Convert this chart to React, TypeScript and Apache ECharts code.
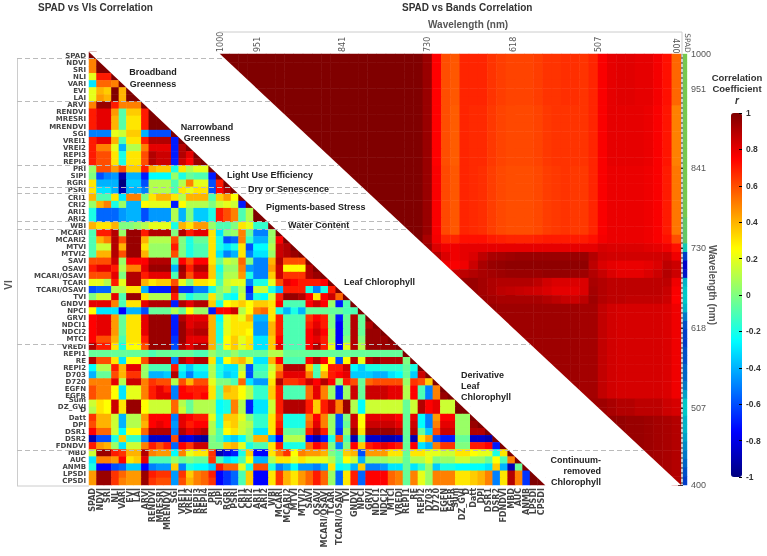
import React, { useEffect, useRef } from "react";
import * as echarts from "echarts";

const viLabels = ["SPAD","NDVI","SRI","NLI","VARI","EVI","LAI","ARVI","RENDVI","MRESRI","MRENDVI","SGI","VREI1","VREI2","REPI3","REPI4","PRI","SIPI","RGRI","PSRI","CRI1","CRI2","ARI1","ARI2","WBI","MCARI","MCARI2","MTVI","MTVI2","SAVI","OSAVI","MCARI/OSAVI","TCARI","TCARI/OSAVI","TVI","GNDVI","NPCI","GRVI","NDCI1","NDCI2","MTCI","VREDI","REPI1","RE","REPI2","D703","D720","EGFN","EGFR","Sum\nDZ_GVI","D","Datt","DPI","DSR1","DSR2","FDNDVI","MBD","AUC","ANMB","LPSDI","CPSDI"];

// Correlation x 100, lower triangle, one array per VI row
const viRows: number[][] = [
[100],
[50,100],
[50,100,100],
[20,70,70,100],
[-30,55,55,50,100],
[20,40,35,100,40,100],
[20,45,40,100,40,100,100],
[50,95,95,70,50,50,50,100],
[70,80,80,45,-8,35,35,70,100],
[70,80,80,40,-8,30,30,70,100,100],
[70,80,80,40,-8,30,30,70,100,100,100],
[-50,-50,-50,20,15,35,35,-40,-60,-60,-60,100],
[70,80,80,40,-10,30,30,70,90,90,90,-70,100],
[70,50,50,20,-40,10,10,50,80,80,80,-70,90,100],
[70,60,60,30,-20,30,30,60,90,85,85,-70,90,80,100],
[70,60,60,30,-20,30,30,60,90,85,85,-70,85,75,95,100],
[5,60,60,45,60,35,35,70,40,35,35,-20,30,10,20,20,100],
[0,-60,-50,-45,-90,-40,-40,-70,-25,-25,-25,5,-20,-5,-10,-10,-70,100],
[30,-40,-40,-40,-100,-35,-35,-60,10,10,10,-10,10,50,20,20,-60,70,100],
[30,-30,-30,-40,-90,-40,-40,-50,10,10,10,-10,30,20,30,30,-60,75,90,100],
[40,-10,-10,30,-30,50,50,0,30,40,40,30,10,40,40,40,-10,35,45,25,100],
[5,40,50,-20,5,-40,-40,25,20,20,20,-70,25,10,10,10,0,15,20,15,-70,100],
[-20,-55,-55,-55,-45,-40,-40,-60,-45,-45,-45,10,-40,0,-35,-35,-20,70,60,50,-10,10,100],
[-20,-55,-55,-55,-45,-40,-40,-60,-45,-45,-45,10,-40,0,-35,-35,-20,70,60,50,-10,10,100,100],
[40,30,30,40,0,0,5,10,20,20,20,-20,40,30,45,45,5,-10,-10,0,30,20,-15,-15,100],
[-10,70,70,90,5,95,95,70,90,90,90,0,90,70,80,80,30,-30,0,5,50,-5,-50,-50,5,100],
[-10,40,50,90,60,95,95,40,10,10,10,60,0,-20,-5,-5,30,-20,-60,-55,50,-15,-40,-40,5,75,100],
[-10,15,15,90,40,95,95,30,5,5,5,70,0,-20,-10,-10,30,-20,-30,-20,30,-60,-25,-25,10,85,90,100],
[-10,40,40,90,60,95,95,40,5,5,5,60,0,-20,-10,-10,30,-30,-50,-40,30,-50,-30,-30,5,85,90,95,100],
[60,60,60,85,5,75,75,75,90,90,90,-10,75,60,75,75,30,-5,15,10,55,0,-50,-50,40,90,60,60,60,100],
[70,80,80,70,10,50,50,80,95,95,95,-40,95,70,90,90,35,-20,5,5,50,-45,-50,-50,45,85,25,25,25,90,100],
[60,60,60,80,0,90,90,70,80,80,80,-10,90,60,80,80,35,-15,10,10,45,-20,-50,-50,35,85,65,65,65,90,95,100],
[20,20,10,70,20,90,90,40,30,35,35,60,20,0,30,30,25,-10,15,20,20,-50,-20,-20,20,60,80,75,70,70,70,75,100],
[-60,-55,-55,10,10,30,30,-40,-70,-70,-70,90,-65,-65,-50,-50,-20,0,10,-10,10,-70,15,15,-20,-40,70,70,70,-20,-50,-20,70,100],
[0,15,15,80,-10,95,95,30,10,10,10,70,0,-20,-10,-10,30,0,-20,-25,15,-60,-20,-25,15,70,95,95,90,75,30,75,85,55,100],
[80,80,80,50,-10,30,30,80,90,90,90,-70,90,80,90,90,35,-20,25,30,35,25,35,35,30,75,-10,-10,-10,75,85,75,5,-70,-10,100],
[25,-30,-30,-30,-75,-40,-40,-60,-5,-5,-5,10,-5,25,5,5,-70,75,75,85,10,25,50,55,30,-20,-40,-20,-40,-5,-5,-5,-5,-5,-10,-10,100],
[75,80,80,45,-5,30,30,80,95,95,95,-70,90,80,80,80,40,-25,20,30,20,40,-40,-40,30,70,-10,-10,-10,65,75,70,0,-70,-5,90,-5,100],
[75,80,80,45,-5,30,30,80,95,95,95,-70,95,80,85,85,40,-20,20,30,30,30,-45,-45,40,70,-10,-10,-10,70,80,70,0,-75,-5,90,-5,90,100],
[75,80,80,45,-5,30,30,80,95,95,95,-70,95,85,90,90,40,-20,20,30,30,25,-45,-45,40,70,-10,-10,-10,75,85,75,5,-75,-5,90,-5,95,95,100],
[75,60,60,40,-10,30,30,70,95,95,95,-65,95,80,80,80,40,-20,25,35,20,30,-30,-30,35,75,-10,-10,-10,75,80,70,5,-75,0,90,0,95,95,95,100],
[90,70,70,30,-20,25,25,60,95,95,95,-60,90,80,90,90,40,-10,25,35,20,30,-30,-30,35,80,-10,-10,-10,75,90,70,20,-75,20,90,10,95,95,95,95,100],
[-5,-5,-5,-5,-5,-5,-5,-5,-10,-5,-5,-5,-5,-5,-10,-10,5,-5,-5,5,-5,-5,-5,-5,10,10,-5,-5,-5,-5,-5,-5,-5,-5,-5,-5,-5,-5,-5,-5,-5,-5,100],
[90,60,60,30,-30,25,25,60,90,90,90,-50,90,80,90,90,30,-30,25,35,40,20,-30,-30,40,75,-10,-10,-10,75,90,75,25,-60,25,90,20,90,95,90,90,90,0,100],
[-25,10,10,70,40,80,80,5,-10,-10,-10,70,-20,-35,-20,-20,10,-20,-30,-30,10,-60,-15,-15,15,45,90,90,90,35,-10,25,70,70,85,-25,-35,-20,-20,-15,-15,-15,-5,-20,100],
[-40,-5,-5,60,40,65,65,5,-40,-40,-35,90,-30,-50,-30,-30,10,-20,-35,-30,20,-60,-10,-10,20,60,80,80,80,50,-10,40,70,75,80,-35,-35,-35,-40,-40,-30,-25,-5,-35,85,100],
[50,50,50,80,10,85,85,50,65,60,60,10,60,40,60,60,20,0,0,-10,55,-30,-45,-45,30,90,65,65,70,85,75,90,75,5,70,60,-5,55,60,60,60,60,5,65,60,35,100],
[60,50,50,25,-30,20,20,50,70,80,70,-50,75,70,70,70,30,-10,40,35,25,10,-15,-15,35,70,-10,-10,-10,55,80,50,5,-70,5,85,-5,85,85,85,80,80,10,75,-10,-50,50,100],
[60,50,50,25,-30,20,20,50,70,80,80,-50,75,75,70,75,30,-10,35,35,25,10,-15,-15,35,70,-10,-10,-10,55,80,50,5,-70,5,85,-5,85,85,85,80,80,10,75,-10,-50,50,95,100],
[15,30,25,85,30,95,95,25,15,15,15,55,10,-5,10,10,10,-25,-20,50,10,-70,-30,-30,15,70,90,90,90,70,35,70,85,50,95,10,-25,15,15,15,15,15,-5,15,90,75,80,15,15,100],
[10,30,25,85,30,95,95,25,15,15,15,55,15,-5,10,10,10,-25,-20,50,10,-70,-30,-30,15,70,90,90,90,70,35,70,85,50,95,10,-25,15,15,15,15,15,-5,15,90,75,80,15,15,100,100],
[65,40,40,15,-40,10,10,45,75,75,75,-50,80,75,70,70,20,-20,35,35,20,0,-15,-15,30,65,-20,-20,-20,50,75,50,5,-60,0,85,25,80,80,80,80,75,-5,80,-25,-50,45,75,75,5,5,100],
[60,40,40,15,-40,10,10,40,75,80,75,-45,80,70,75,75,10,-20,30,35,15,10,-15,-15,30,70,-20,-20,-20,55,80,50,5,-60,-5,85,25,85,85,85,85,80,-5,85,-25,-50,50,80,80,5,5,95,100],
[75,55,55,15,-25,25,25,55,90,90,90,-50,90,80,85,90,10,-10,25,30,15,5,-30,-30,30,80,-5,-5,-5,70,90,70,5,-65,5,95,30,95,95,95,95,90,-5,90,-5,-35,60,85,85,5,5,90,90,100],
[-90,-60,-60,-20,35,-15,-15,-50,-85,-85,-85,60,-85,-80,-90,-95,0,-10,-30,-35,-25,0,40,40,-40,-75,10,10,10,-75,-90,-70,-20,60,-10,-90,-10,-85,-85,-90,-90,-85,-5,-90,30,45,-60,-70,-70,-5,-5,-85,-85,-90,100],
[70,45,40,5,-30,15,15,50,70,60,70,-55,75,65,85,85,0,0,35,40,20,-20,-10,-10,30,70,-20,-20,-20,55,75,65,0,-50,0,75,35,70,75,80,75,70,-5,75,-30,-40,50,65,65,0,0,70,70,75,-70,100],
[15,95,95,70,65,40,40,90,50,45,45,-25,50,20,30,30,65,-90,-80,-70,-20,35,-75,-75,30,50,65,25,50,45,45,40,0,-10,35,40,-60,45,45,45,30,30,-5,30,30,20,20,15,15,30,30,25,20,20,-20,30,100],
[-30,50,50,45,75,30,35,80,-10,-10,-10,5,-5,0,-5,-5,65,-10,-30,-25,-10,25,-40,-40,10,30,30,20,30,20,20,20,10,-10,25,15,-40,5,5,5,10,10,-5,10,10,20,0,5,5,15,15,5,5,-5,25,-10,50,100],
[-20,-75,-75,-60,-55,-35,-35,-75,-50,-45,-45,35,-50,-20,-25,-25,-35,70,55,55,20,-20,60,60,-20,-50,-40,-25,-45,-45,-50,-40,30,-25,-20,-40,35,-50,-50,-45,-30,-30,-5,-30,-15,5,-35,-20,-20,-25,-25,-25,-25,-30,35,-40,-90,-5,100],
[45,95,95,65,55,45,45,95,70,65,65,-45,65,35,50,55,70,-75,-65,-55,-10,35,-75,-75,30,65,40,30,45,55,70,55,5,-55,30,70,-55,75,75,75,55,50,-5,50,20,5,50,50,50,30,30,35,40,50,-50,30,90,50,-65,100],
[45,95,95,65,50,45,45,95,65,60,60,-45,60,40,50,55,65,-75,-65,-55,-10,35,-75,-75,30,65,40,30,45,55,70,55,5,-55,30,70,-55,75,75,75,55,50,-5,50,20,5,50,50,50,30,30,35,40,50,-50,30,90,50,-65,100,100],
];

// Bands: 50 bins of 12 nm from 1000 to 400 nm
const bandBins = Array.from({ length: 50 }, (_, i) => String(994 - 12 * i));
const d22 = [100,100,100,100,100,100,100,100,100,100,100,100,100,100,100,100,100,100,100,100,100,100];
const profileA = [...d22,95,75,60,58,68,68,68,65,63,62,62,62,63,65,65,66,66,65,68,76,80,81,81,80,80,77,72,55];
const profileB = [...d22,95,75,60,57,68,67,67,64,62,61,61,61,62,64,65,65,65,65,68,76,80,80,80,80,79,76,71,50];
const profileC = [...d22,95,76,61,58,68,67,66,63,61,60,60,60,61,63,64,65,64,64,68,76,79,79,79,79,78,76,70,52];
const profileD = [...d22,92,77,68,68,72,72,72,70,69,68,68,68,69,70,70,70,70,70,72,77,79,79,79,79,78,76,72,60];
const profileE = [...d22,95,82,78,78,80,80,80,80,80,80,80,80,80,80,80,80,80,80,80,83,82,82,82,82,81,80,78,72];
const profileF = [...d22,95,90,82,78,80,82,88,92,93,94,95,95,95,95,95,95,95,95,90,85,84,84,84,84,84,84,85,78];
const profileG = [...d22,95,90,78,76,78,85,92,95,96,97,97,97,97,97,97,97,97,97,88,82,80,79,79,79,80,82,88,85];
const profileH = [...d22,95,92,88,86,88,90,92,93,94,95,95,95,95,96,96,96,95,94,90,86,82,80,80,80,82,85,90,85];
const profileI = [...d22,95,95,95,95,95,95,93,91,90,90,90,90,88,84,82,82,82,82,92,90,88,88,88,88,88,88,88,78];
const profileJ = [...d22,95,95,95,95,95,95,93,91,88,87,86,85,84,82,80,80,80,82,93,90,88,88,88,88,88,88,86,76];
const profileK = [...d22,95,95,95,95,95,95,94,93,92,92,92,92,92,90,88,86,85,88,94,90,88,88,87,87,87,87,85,75];
const profileL = [...d22,95,95,95,95,95,95,95,95,94,94,94,94,94,94,94,94,94,93,93,87,84,83,83,83,83,83,82,78];
const profileM = [...d22,95,95,95,95,95,95,95,95,95,95,95,95,95,95,95,95,95,94,94,94,92,90,90,88,88,88,85,83];
const profileN = [...d22,96,96,96,96,96,96,96,96,96,96,96,96,96,96,96,96,96,96,96,96,96,96,95,95,94,93,92,90];
const rowProfiles = [profileA,profileA,profileA,profileA,profileA,profileA,profileB,profileB,profileB,profileB,profileB,profileB,profileB,profileC,profileC,profileC,profileC,profileC,profileC,profileC,profileC,profileD,profileE,profileF,profileG,profileH,profileI,profileJ,profileK,profileL,profileL,profileL,profileL,profileL,profileL,profileL,profileL,profileL,profileL,profileL,profileM,profileM,profileN,profileN,profileN,profileN,profileN,profileN,profileN,profileN];
const spadStrip = [5,5,5,5,5,5,5,5,5,5,5,5,5,5,5,5,5,5,5,0,0,0,-20,-60,-75,-70,-30,-25,-25,-30,-45,-55,-60,-60,-55,-55,-50,-50,-45,-35,-25,-25,-30,-30,-35,-40,-45,-50,-55,-60];

const bandTicks = [1000,951,841,730,618,507,400];
const topLabelTicks = [1000,951,841,730,618,507];
const jetColors = ["#000080","#0000ff","#0080ff","#00ffff","#80ff80","#ffff00","#ff8000","#ff0000","#800000"];
const separatorYs = [58,101,165,187,193,221,229,344,450];
const groupLabels = [
  { t: "Broadband", x: 153, y: 72, a: "center" }, { t: "Greenness", x: 153, y: 83.5, a: "center" },
  { t: "Narrowband", x: 207, y: 127, a: "center" }, { t: "Greenness", x: 207, y: 138, a: "center" },
  { t: "Light Use Efficiency", x: 227, y: 175, a: "left" },
  { t: "Dry or Senescence", x: 248, y: 189, a: "left" },
  { t: "Pigments-based Stress", x: 266, y: 207, a: "left" },
  { t: "Water Content", x: 288, y: 225, a: "left" },
  { t: "Leaf Chlorophyll", x: 344, y: 282, a: "left" },
  { t: "Derivative", x: 461, y: 375, a: "left" }, { t: "Leaf", x: 461, y: 386, a: "left" }, { t: "Chlorophyll", x: 461, y: 397, a: "left" },
  { t: "Continuum-", x: 601, y: 460, a: "right" }, { t: "removed", x: 601, y: 471, a: "right" }, { t: "Chlorophyll", x: 601, y: 482, a: "right" },
];

const SANS = "Liberation Sans";
const AXIS = "DejaVu Sans";
const plain = (v: number) => String(v);

export default function App() {
  const ref = useRef<HTMLDivElement>(null);
  useEffect(() => {
    document.body.style.margin = "0";
    const chart = echarts.init(ref.current!, undefined, { renderer: "svg" });
    const viData: number[][] = [];
    viRows.forEach((row, r) => row.forEach((v, c) => viData.push([c, r, v / 100])));
    const bandData: number[][] = [];
    rowProfiles.forEach((p, r) => p.forEach((v, c) => { if (c >= r) bandData.push([c, r, v / 100]); }));
    const stripData = spadStrip.map((v, r) => [0, r, v / 100]);

    const graphics: any[] = [
      { type: "polygon", z: 50, silent: true, shape: { points: [[220,54],[681,485],[668,485.5],[207,54]] }, style: { fill: "#fff" } },
      { type: "polygon", z: 50, silent: true, shape: { points: [[89,52],[545,485],[553.5,485],[97.5,52]] }, style: { fill: "#fff" } },
      { type: "rect", z: 55, silent: true, shape: { x: 683, y: 54, width: 4, height: 431 }, style: { fill: "rgba(0,0,0,0.22)" } },
      { type: "line", z: 60, silent: true, shape: { x1: 17.5, y1: 58, x2: 17.5, y2: 486 }, style: { stroke: "#ccc", lineWidth: 1 } },
      { type: "line", z: 60, silent: true, shape: { x1: 17, y1: 486, x2: 89, y2: 486 }, style: { stroke: "#ccc", lineWidth: 1 } },
      { type: "polyline", z: 60, silent: true, shape: { points: [[219,32],[682,32],[682,54]] }, style: { stroke: "#ccc", lineWidth: 1, fill: "none" } },
      { type: "line", z: 61, silent: true, shape: { x1: 682, y1: 54, x2: 682, y2: 485 }, style: { stroke: "#222", lineWidth: 1 } },
      { type: "line", z: 62, silent: true, shape: { x1: 682, y1: 54, x2: 682, y2: 485 }, style: { stroke: "#fff", lineWidth: 1.2, lineDash: [3, 2] } },
      ...separatorYs.map((y) => ({ type: "line", z: 60, silent: true, shape: { x1: 17, y1: y + 0.5, x2: 220 + 1.07 * (y - 54), y2: y + 0.5 }, style: { stroke: "#bbb", lineWidth: 1, lineDash: [5, 3] } })),
      ...groupLabels.map((g) => ({ type: "text", z: 70, silent: true, x: g.x, y: g.y, style: { text: g.t, fill: "#222", font: `bold 9px "${SANS}"`, textAlign: g.a, textVerticalAlign: "middle" } })),
      { type: "text", z: 70, x: 38, y: 7, style: { text: "SPAD vs VIs Correlation", fill: "#333", font: `bold 10px "${SANS}"`, textVerticalAlign: "middle" } },
      { type: "text", z: 70, x: 402, y: 7, style: { text: "SPAD vs Bands Correlation", fill: "#333", font: `bold 10px "${SANS}"`, textVerticalAlign: "middle" } },
      { type: "text", z: 70, x: 428, y: 24, style: { text: "Wavelength (nm)", fill: "#555", font: `bold 10px "${SANS}"`, textVerticalAlign: "middle" } },
      { type: "text", z: 70, x: 712, y: 285, rotation: -Math.PI / 2, style: { text: "Wavelength (nm)", fill: "#555", font: `bold 10px "${SANS}"`, textAlign: "center", textVerticalAlign: "middle" } },
      { type: "text", z: 70, x: 8, y: 285, rotation: Math.PI / 2, style: { text: "VI", fill: "#555", font: `bold 10px "${SANS}"`, textAlign: "center", textVerticalAlign: "middle" } },
      { type: "text", z: 70, x: 737, y: 77, style: { text: "Correlation", fill: "#333", font: `bold 9.5px "${SANS}"`, textAlign: "center", textVerticalAlign: "middle" } },
      { type: "text", z: 70, x: 737, y: 88, style: { text: "Coefficient", fill: "#333", font: `bold 9.5px "${SANS}"`, textAlign: "center", textVerticalAlign: "middle" } },
      { type: "text", z: 70, x: 737, y: 100, style: { text: "r", fill: "#333", font: `italic bold 10px "${SANS}"`, textAlign: "center", textVerticalAlign: "middle" } },
      { type: "text", z: 70, x: 675.5, y: 46, rotation: -Math.PI / 2, style: { text: "400", fill: "#555", font: `8px "${AXIS}"`, textAlign: "center", textVerticalAlign: "middle" } },
      { type: "text", z: 70, x: 687, y: 43, rotation: -Math.PI / 2, style: { text: "SPAD", fill: "#555", font: `7.5px "${AXIS}"`, textAlign: "center", textVerticalAlign: "middle" } },
    ];

    const common = { interval: 0, color: "#444", fontFamily: AXIS, fontWeight: "bold" as const, lineHeight: 7, margin: 3 };
    chart.setOption({
      animation: false,
      backgroundColor: "#fff",
      tooltip: { show: false },
      grid: [
        { left: 89, top: 52, width: 456, height: 433 },
        { left: 220, top: 54, width: 461, height: 431 },
        { left: 683, top: 54, width: 4, height: 431 },
        { left: 731, top: 113, width: 11, height: 364 },
      ],
      xAxis: [
        { gridIndex: 0, type: "category", data: viLabels, axisLine: { show: false }, axisTick: { show: false }, axisLabel: { ...common, fontSize: 8, rotate: 90 } },
        { gridIndex: 1, type: "category", data: bandBins, show: false },
        { gridIndex: 1, type: "value", min: 400, max: 1000, inverse: true, position: "top",
          axisLine: { show: true, onZero: false, lineStyle: { color: "#555" } }, splitLine: { show: false },
          axisTick: { show: true, inside: true, length: 3, customValues: bandTicks, lineStyle: { color: "#333" } },
          axisLabel: { customValues: topLabelTicks, formatter: plain, rotate: -90, color: "#555", fontFamily: AXIS, fontSize: 8, margin: 2, hideOverlap: false, showMinLabel: true, showMaxLabel: true } },
        { gridIndex: 2, type: "category", data: ["SPAD"], show: false },
        { gridIndex: 3, type: "value", min: 0, max: 1, show: false },
      ],
      yAxis: [
        { gridIndex: 0, type: "category", data: viLabels, inverse: true, axisLine: { show: false }, axisTick: { show: false }, axisLabel: { ...common, fontSize: 7 } },
        { gridIndex: 1, type: "category", data: bandBins, inverse: true, show: false },
        { gridIndex: 1, type: "value", min: 400, max: 1000, position: "right", offset: 2,
          axisLine: { show: false, onZero: false }, splitLine: { show: false },
          axisTick: { show: true, inside: true, length: 5, customValues: bandTicks, lineStyle: { color: "#333" } },
          axisLabel: { customValues: bandTicks, formatter: plain, color: "#555", fontFamily: SANS, fontSize: 9, margin: 8, showMinLabel: true, showMaxLabel: true } },
        { gridIndex: 2, type: "category", data: bandBins, inverse: true, show: false },
        { gridIndex: 3, type: "value", min: -1, max: 1, interval: 0.2, position: "right",
          axisLine: { show: false, onZero: false }, splitLine: { show: false }, z: 10,
          axisTick: { show: true, inside: true, length: 3, lineStyle: { color: "#000" } },
          axisLabel: { color: "#333", fontFamily: SANS, fontWeight: "bold", fontSize: 8.5, margin: 4 } },
      ],
      visualMap: { type: "continuous", min: -1, max: 1, seriesIndex: [0, 1, 2], calculable: false, realtime: false, left: 731, top: 113, itemWidth: 11, itemHeight: 364, padding: 0, showLabel: false, inRange: { color: jetColors }, textStyle: { fontSize: 0 }, hoverLink: false },
      series: [
        { type: "heatmap", xAxisIndex: 0, yAxisIndex: 0, data: viData, progressive: 0, silent: true, z: 2 },
        { type: "heatmap", xAxisIndex: 1, yAxisIndex: 1, data: bandData, progressive: 0, silent: true, z: 2 },
        { type: "heatmap", xAxisIndex: 3, yAxisIndex: 3, data: stripData, progressive: 0, silent: true, z: 2 },
      ],
      graphic: { elements: graphics },
    });
    return () => chart.dispose();
  }, []);
  return <div ref={ref} style={{ position: "fixed", left: 0, top: 0, width: 767, height: 556, filter: "blur(0.4px)" }} />;
}
